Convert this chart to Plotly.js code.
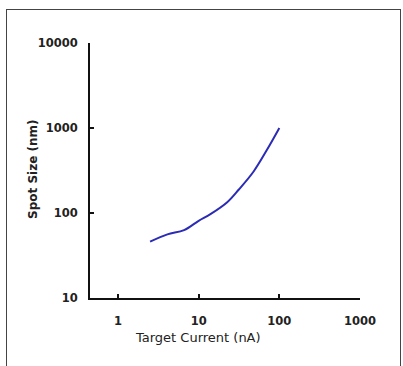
<!DOCTYPE html>
<html><head><meta charset="utf-8">
<script src="https://cdn.plot.ly/plotly-3.0.1.min.js"></script>
<style>
html,body{margin:0;padding:0;background:#fff;}
#frame{position:absolute;left:6px;top:9px;width:395px;height:370px;border:1px solid #444;box-sizing:border-box;}
#chart{position:absolute;left:0;top:0;width:403px;height:366px;}
</style></head>
<body>
<div id="frame"></div>
<div id="chart"></div>
<script>
const targetCurrent = [2.5, 4.1, 6.6, 10, 14, 22.6, 31.5, 48, 70, 100];
const spotSize = [46, 56, 63, 81, 97, 134, 189, 308, 550, 1000];
const xTicks = [1, 10, 100, 1000];
const yTicks = [10, 100, 1000, 10000];

const trace = {
  x: targetCurrent, y: spotSize, type: 'scatter', mode: 'lines',
  line: {color: '#2b2bb5', width: 2, shape: 'spline'}, hoverinfo: 'skip'
};
const tickFont = {family: 'DejaVu Sans, sans-serif', size: 11.5, color: '#222', weight: 'bold'};
const layout = {
  width: 403, height: 366,
  margin: {l: 90, r: 43, t: 43, b: 68},
  paper_bgcolor: 'rgba(0,0,0,0)', plot_bgcolor: 'rgba(0,0,0,0)',
  showlegend: false,
  font: {family: 'DejaVu Sans, sans-serif', color: '#222'},
  xaxis: {
    type: 'log', range: [Math.log10(0.45), 3],
    tickvals: xTicks, ticktext: xTicks.map(String),
    ticks: 'inside', ticklen: 4, tickwidth: 2, tickcolor: '#111',
    showline: true, linecolor: '#111', linewidth: 2,
    showgrid: false, zeroline: false,
    tickfont: tickFont, ticklabelstandoff: 11
  },
  yaxis: {
    type: 'log', range: [1, 4],
    tickvals: yTicks, ticktext: yTicks.map(String),
    ticks: 'inside', ticklen: 4, tickwidth: 2, tickcolor: '#111',
    showline: true, linecolor: '#111', linewidth: 2,
    showgrid: false, zeroline: false,
    tickfont: tickFont, ticklabelstandoff: 8
  },
  annotations: [
    {text: 'Target Current (nA)', xref: 'paper', yref: 'paper', x: (198-90)/270, y: -(338-298)/255,
     showarrow: false, font: {size: 13, color: '#222'}, xanchor: 'center', yanchor: 'middle'},
    {text: '<b>Spot Size (nm)</b>', xref: 'paper', yref: 'paper', x: -(90-33)/270, y: (298-170)/255,
     showarrow: false, textangle: -90, font: {size: 12, color: '#222'}, xanchor: 'center', yanchor: 'middle'}
  ]
};
Plotly.newPlot('chart', [trace], layout, {displayModeBar: false, staticPlot: true});
</script>
</body></html>
